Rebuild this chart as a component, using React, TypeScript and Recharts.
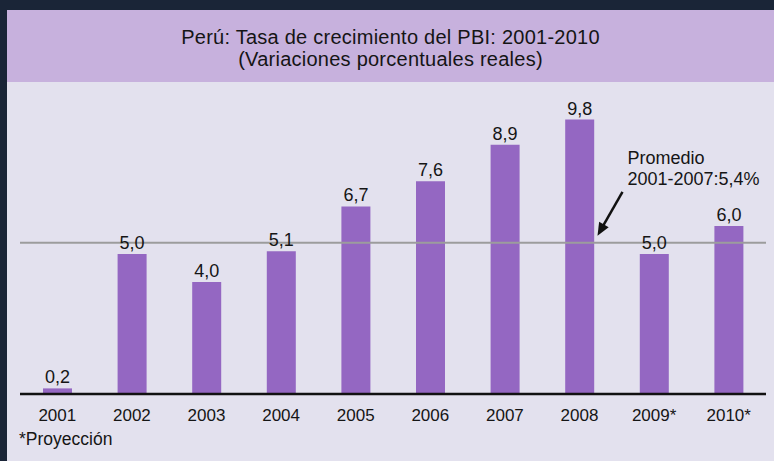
import { BarChart, Bar, XAxis, YAxis, ReferenceLine, LabelList } from "recharts";

const years = ["2001", "2002", "2003", "2004", "2005", "2006", "2007", "2008", "2009*", "2010*"];
const growth = [0.2, 5.0, 4.0, 5.1, 6.7, 7.6, 8.9, 9.8, 5.0, 6.0];
const average = 5.4;
const averageNote = ["Promedio", "2001-2007:5,4%"];
const titleLines = ["Perú: Tasa de crecimiento del PBI: 2001-2010", "(Variaciones porcentuales reales)"];
const footnote = "*Proyección";

const data = years.map((year, i) => ({ year, value: growth[i] }));

const FONT = "'Liberation Sans', Arial, sans-serif";
const fmt = (v: number) => v.toFixed(1).replace(".", ",");

function AverageNote(props: any) {
  const vb = props.viewBox;
  if (!vb) return null;
  const band = vb.width / years.length;
  const anchor = vb.x + band * (years.indexOf("2008") + 0.5);
  const tipX = anchor + 18;
  const tipY = vb.y - 7;
  const tailX = tipX + 25;
  const tailY = vb.y - 51;
  const dx = tipX - tailX;
  const dy = tipY - tailY;
  const len = Math.sqrt(dx * dx + dy * dy);
  const ux = dx / len;
  const uy = dy / len;
  const headLen = 13;
  const bx = tipX - ux * headLen;
  const by = tipY - uy * headLen;
  return (
    <g>
      <line x1={tailX} y1={tailY} x2={bx + ux * 2} y2={by + uy * 2} stroke="#111" strokeWidth={2.5} />
      <polygon
        points={`${tipX},${tipY} ${bx - uy * 5.5},${by + ux * 5.5} ${bx + uy * 5.5},${by - ux * 5.5}`}
        fill="#111"
      />
      {averageNote.map((t, i) => (
        <text key={t} x={tipX + 30} y={vb.y - 79 + i * 21} fontSize={18} fill="#151515" fontFamily={FONT}>
          {t}
        </text>
      ))}
    </g>
  );
}

export default function App() {
  return (
    <div style={{ position: "absolute", left: 0, top: 0, width: 774, height: 461, background: "#1a2537", fontFamily: FONT }}>
      <div style={{ position: "absolute", left: 7, top: 10, width: 767, height: 451, background: "#e3e1ee" }} />
      <div style={{ position: "absolute", left: 7, top: 10, width: 767, height: 72, background: "#c7b1dd" }} />
      <div
        style={{
          position: "absolute",
          left: 7,
          top: 27,
          width: 767,
          textAlign: "center",
          fontSize: 20,
          letterSpacing: 0.25,
          lineHeight: "21.5px",
          color: "#151515",
        }}
      >
        {titleLines.map((t) => (
          <div key={t}>{t}</div>
        ))}
      </div>
      <div style={{ position: "absolute", left: 19, top: 429, fontSize: 17.5, color: "#151515" }}>{footnote}</div>
      <div style={{ position: "absolute", left: 0, top: 0 }}>
        <BarChart width={774} height={461} data={data} margin={{ top: 100, right: 8, left: 20, bottom: 37 }}>
          <YAxis hide domain={[0, 10.5]} />
          <XAxis
            dataKey="year"
            height={30}
            axisLine={{ stroke: "#111", strokeWidth: 2.5 }}
            tickLine={false}
            tickMargin={9}
            tick={{ fontSize: 17, fill: "#151515", fontFamily: FONT }}
            interval={0}
          />
          <ReferenceLine y={average} stroke="#9c9c9c" strokeWidth={2} label={<AverageNote />} />
          <Bar dataKey="value" fill="#9467c2" barSize={29} isAnimationActive={false}>
            <LabelList
              dataKey="value"
              position="top"
              offset={5}
              formatter={(v: any) => fmt(Number(v))}
              style={{ fontSize: 18, fill: "#151515", fontFamily: FONT }}
            />
          </Bar>
        </BarChart>
      </div>
    </div>
  );
}
